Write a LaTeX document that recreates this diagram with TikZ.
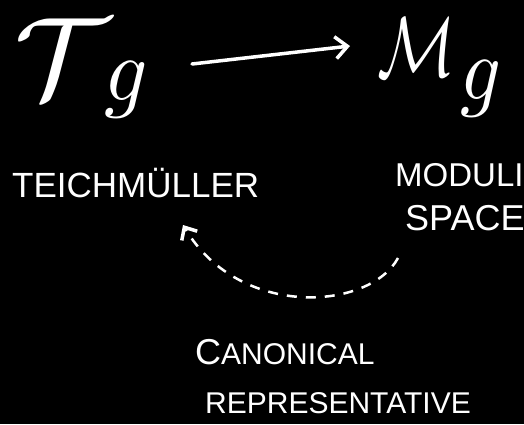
\documentclass[tikz,border=0pt]{standalone}
\usepackage{fontspec}
\setsansfont{Liberation Sans}
\usetikzlibrary{arrows.meta}
\begin{document}
\begin{tikzpicture}[x=1pt,y=-1pt,
  lbl/.style={text=white,font=\sffamily\fontsize{33}{36}\selectfont,inner sep=0pt},
  big/.style={text=white,inner sep=0pt},
  conn/.style={draw=white,line width=3.5pt,line cap=round,-{Straight Barb[length=12pt,width=22pt,line width=3.5pt]}}]
\fill[black] (0,0) rectangle (524,424);
\useasboundingbox (0,0) rectangle (524,424);
\node[big] (T) at (62,58) {\scalebox{12}[11.5]{$\mathcal{T}$}};
\node[big] (Tg) at (126,90) {\scalebox{8.5}[9]{$g$}};
\node[big] (M) at (417,47) {\scalebox{6.5}[8.5]{$\mathcal{M}$}};
\node[big] (Mg) at (481,89) {\scalebox{8}[9]{$g$}};
\coordinate (a1) at (192,64);
\coordinate (a2) at (350,46);
\draw[conn] (a1) -- (a2);
\node[lbl,anchor=west,font=\sffamily\fontsize{35}{38}\selectfont] (teich) at (12,183) {TEICHMÜLLER};
\node[lbl,anchor=west] (mod) at (395,175) {MODULI};
\node[lbl,anchor=west,font=\sffamily\fontsize{36}{38}\selectfont] (space) at (405,218) {SPACE};
\coordinate (d1) at (398,258);
\coordinate (d2) at (183,225);
\draw[draw=white,line width=2.5pt,dash pattern=on 10pt off 9pt,-{Straight Barb[length=10pt,width=18pt,line width=3.5pt]}]
  (d1) .. controls (370,310) and (240,320) .. (d2);
\node[lbl,anchor=west,font=\sffamily\fontsize{36}{38}\selectfont] (can) at (195,352) {C\fontsize{30}{32}\selectfont ANONICAL};
\node[lbl,anchor=west,font=\sffamily\fontsize{30}{34}\selectfont] (rep) at (205,403) {REPRESENTATIVE};
\end{tikzpicture}
\end{document}
